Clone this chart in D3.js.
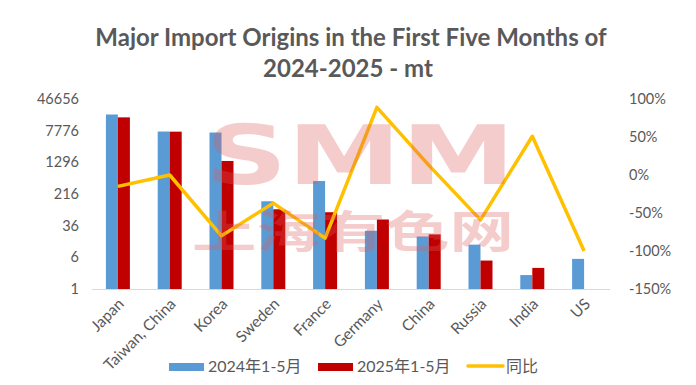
<!DOCTYPE html>
<html>
<head>
<meta charset="utf-8">
<script src="https://cdn.jsdelivr.net/npm/d3@7"></script>
<style>
  body { margin: 0; background: #fff; }
  text { font-family: Lato, "Noto Sans CJK SC", sans-serif; }
</style>
</head>
<body>
<div id="chart"></div>
<script>
// chart values
var categories = ['Japan', 'Taiwan, China', 'Korea', 'Sweden', 'France', 'Germany', 'China', 'Russia', 'India', 'US'];
var imports2024 = [19400, 7400, 7000, 143, 450, 27, 19.5, 12.3, 2.2, 5.5];
var imports2025 = [16500, 7350, 1400, 91, 77, 51, 22, 5, 3.3, 0];
var yoyPct = [-15, 0, -80, -37, -83, 89, 13, -59, 51, -100];
var leftTicks = [1, 6, 36, 216, 1296, 7776, 46656];
var rightTicks = [-150, -100, -50, 0, 50, 100];
var seriesNames = ['2024年1-5月', '2025年1-5月', '同比'];

var width = 696;
var height = 385;
var plot = { left: 92, right: 610, top: 99, bottom: 289 };

var svg = d3.select('#chart')
    .append('svg')
    .attr('width', width)
    .attr('height', height);

// title
var title = svg.append('text')
    .attr('text-anchor', 'middle')
    .style('font-size', 24)
    .style('font-weight', 'bold')
    .style('fill', '#595959');
title.append('tspan').attr('x', 351).attr('y', 46).text('Major Import Origins in the First Five Months of');
title.append('tspan').attr('x', 348).attr('y', 77).text('2024-2025 - mt');

// scales
var x = d3.scaleBand()
    .domain(categories)
    .range([plot.left, plot.right]);

var y = d3.scaleLog()
    .base(6)
    .domain([1, 46656])
    .range([plot.bottom, plot.top]);

var yRight = d3.scaleLinear()
    .domain([-150, 100])
    .range([plot.bottom, plot.top]);

var barW = 12;

// bars
var bars = svg.append('g').attr('class', 'bars');
bars.selectAll('.bar-2024')
    .data(imports2024)
    .enter()
    .append('rect')
    .attr('class', 'bar-2024')
    .attr('x', function(d, i) { return x(categories[i]) + x.bandwidth() / 2 - barW; })
    .attr('y', function(d) { return y(Math.max(d, 1)); })
    .attr('width', barW)
    .attr('height', function(d) { return plot.bottom - y(Math.max(d, 1)); })
    .style('fill', '#5b9bd5');

bars.selectAll('.bar-2025')
    .data(imports2025)
    .enter()
    .append('rect')
    .attr('class', 'bar-2025')
    .attr('x', function(d, i) { return x(categories[i]) + x.bandwidth() / 2; })
    .attr('y', function(d) { return y(Math.max(d, 1)); })
    .attr('width', barW)
    .attr('height', function(d) { return plot.bottom - y(Math.max(d, 1)); })
    .style('fill', '#c00000');

// baseline
svg.append('line')
    .attr('x1', plot.left)
    .attr('x2', plot.right)
    .attr('y1', plot.bottom + 0.5)
    .attr('y2', plot.bottom + 0.5)
    .style('stroke', '#d9d9d9')
    .style('stroke-width', 1);

// yoy line
var line = d3.line()
    .x(function(d, i) { return x(categories[i]) + x.bandwidth() / 2; })
    .y(function(d) { return yRight(d); });

svg.append('path')
    .datum(yoyPct)
    .attr('d', line)
    .style('fill', 'none')
    .style('stroke', '#ffc000')
    .style('stroke-width', 3.5)
    .style('stroke-linejoin', 'round');

// left axis
var leftAxis = svg.append('g')
    .attr('transform', 'translate(' + (plot.left - 10) + ',0)')
    .call(d3.axisLeft(y).tickValues(leftTicks).tickSize(0).tickFormat(d3.format('d')));
leftAxis.select('.domain').remove();
leftAxis.selectAll('text')
    .style('font-size', 14.5)
    .style('fill', '#595959')
    .style('font-family', 'Lato, sans-serif');

// right axis
var rightAxis = svg.append('g')
    .attr('transform', 'translate(' + (plot.right + 16) + ',0)')
    .call(d3.axisRight(yRight).tickValues(rightTicks).tickSize(0).tickFormat(function(d) { return d + '%'; }));
rightAxis.select('.domain').remove();
rightAxis.selectAll('text')
    .style('font-size', 14.5)
    .style('fill', '#595959')
    .style('font-family', 'Lato, sans-serif');

// x labels
svg.append('g')
    .selectAll('text')
    .data(categories)
    .enter()
    .append('text')
    .attr('transform', function(d) {
        return 'translate(' + (x(d) + x.bandwidth() / 2 + 7) + ',' + (plot.bottom + 16) + ') rotate(-45)';
    })
    .attr('text-anchor', 'end')
    .style('font-size', 15.5)
    .style('fill', '#595959')
    .text(function(d) { return d; });

// legend
var legend = svg.append('g').attr('class', 'legend');
var legendItems = [
    { name: seriesNames[0], color: '#5b9bd5', type: 'rect', x: 169 },
    { name: seriesNames[1], color: '#c00000', type: 'rect', x: 318 },
    { name: seriesNames[2], color: '#ffc000', type: 'line', x: 467 }
];
legendItems.forEach(function(d) {
    if (d.type === 'rect') {
        legend.append('rect')
            .attr('x', d.x)
            .attr('y', 363)
            .attr('width', 35)
            .attr('height', 8)
            .style('fill', d.color);
    } else {
        legend.append('line')
            .attr('x1', d.x + 1)
            .attr('x2', d.x + 36)
            .attr('y1', 366)
            .attr('y2', 366)
            .style('stroke', d.color)
            .style('stroke-width', 3.5)
            .style('stroke-linecap', 'round');
    }
    legend.append('text')
        .attr('x', d.x + 39)
        .attr('y', 366)
        .attr('dy', '0.36em')
        .style('font-size', 16)
        .style('fill', '#595959')
        .text(d.name);
});

// watermark, drawn over the chart like the faint logo in the source
var wm = svg.append('g')
    .attr('class', 'watermark')
    .attr('opacity', 0.3)
    .style('pointer-events', 'none');
wm.append('text')
    .attr('x', 205)
    .attr('y', 184)
    .attr('textLength', 310)
    .attr('lengthAdjust', 'spacingAndGlyphs')
    .style('font-size', 82)
    .style('font-weight', 'bold')
    .style('font-family', '"DejaVu Sans", sans-serif')
    .style('fill', '#e05a5a')
    .text('SMM');
wm.append('text')
    .attr('x', 192)
    .attr('y', 248)
    .attr('textLength', 322)
    .attr('lengthAdjust', 'spacingAndGlyphs')
    .style('font-size', 44)
    .style('font-weight', 'bold')
    .style('font-family', '"Noto Sans CJK SC", sans-serif')
    .style('fill', '#e05a5a')
    .text('上海有色网');
</script>
</body>
</html>
